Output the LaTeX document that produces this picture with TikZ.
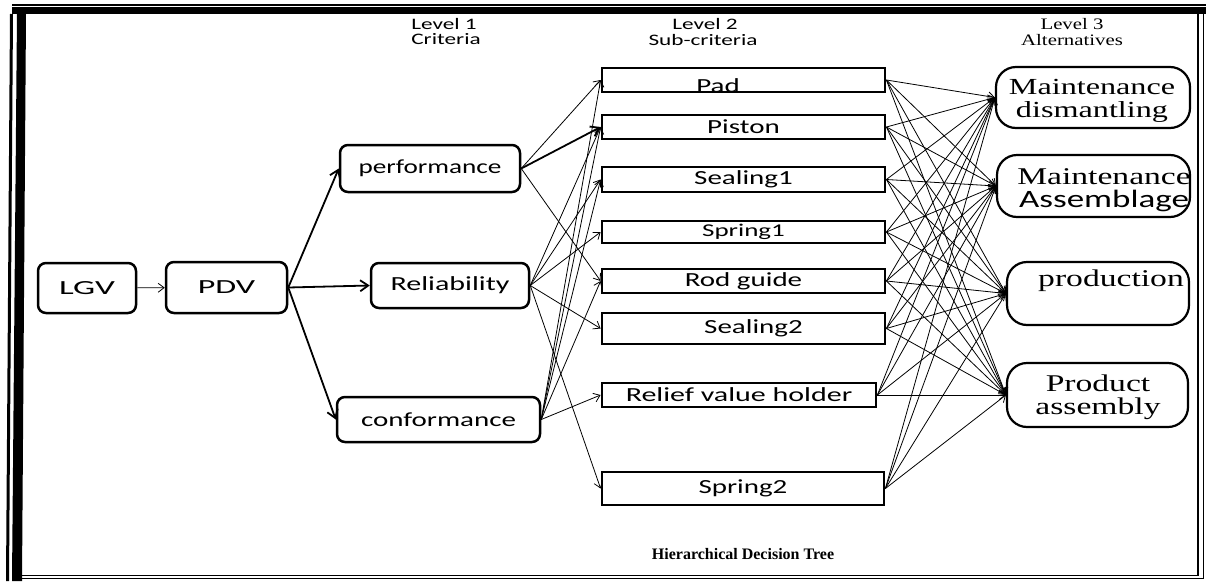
\documentclass[tikz,border=0pt]{standalone}
\usepackage{fontspec}
\setmainfont{Liberation Serif}
\newfontfamily\carl{Carlito}
\usetikzlibrary{arrows.meta}
\newcommand\X[2][1.45]{\scalebox{#1}[1]{#2}}
\begin{document}
\begin{tikzpicture}[x=1pt,y=-1pt,
  crit/.style={draw,line width=2.5pt,rounded corners=8pt,inner sep=0pt,font=\carl\fontsize{20}{24}\selectfont},
  subbox/.style={draw,line width=2.8pt,inner sep=0pt,font=\carl\fontsize{20}{24}\selectfont},
  subtxt/.style={inner sep=0pt,font=\carl\fontsize{20}{24}\selectfont},
  altbox/.style={draw,line width=2.2pt,rounded corners=20pt,inner sep=0pt},
  alttxt/.style={inner sep=0pt,align=center,font=\fontsize{24}{23}\selectfont},
  lvl/.style={inner sep=0pt,anchor=base,font=\carl\fontsize{16}{16}\selectfont},
  lvlt/.style={inner sep=0pt,anchor=base,font=\fontsize{16}{16}\selectfont},
  conn/.style={line width=0.8pt,-{Straight Barb[length=6pt,width=9pt]}},
  bold conn/.style={line width=1.8pt,-{Straight Barb[length=8pt,width=11pt]}}
]
\useasboundingbox (0,0) rectangle (1206,581);
% frame
\draw[line width=1.5pt] (12,5) -- (1206,5);
\fill (12,7) rectangle (1206,14);
\draw[line width=3pt] (11.5,14) -- (7.5,581);
\fill (17,14) -- (26,14) -- (22,581) -- (12,581) -- cycle;
\draw[line width=1.2pt] (21,575.5) -- (1198,575.5);
\draw[line width=1.2pt] (21,578.6) -- (1204,578.6);
\draw[line width=2.5pt] (1198,14) -- (1198,576);
\draw[line width=1.2pt] (1203.4,14) -- (1203.4,579);

% level labels
\node[lvl] (l1) at (444,29) {\X{Level 1}};
\node[lvl] (c1) at (446,44) {\X{Criteria}};
\node[lvl] (l2) at (705,29) {\X{Level 2}};
\node[lvl] (c2) at (703,45) {\X{Sub-criteria}};
\node[lvlt] (l3) at (1072,29) {\X[1.3]{Level 3}};
\node[lvlt] (c3) at (1072,45) {\X[1.3]{Alternatives}};

% main nodes
\node[crit,minimum width=98pt,minimum height=50pt] (lgv) at (87,288) {\X[1.75]{LGV}};
\node[crit,minimum width=121pt,minimum height=51pt] (pdv) at (226.5,287.5) {\X[1.7]{PDV}};
\node[crit,minimum width=180pt,minimum height=47pt] (perf) at (430,168.5) {\X[1.36]{performance}};
\node[crit,minimum width=158pt,minimum height=45pt] (rel) at (450,285.5) {\X[1.5]{Reliability}};
\node[crit,minimum width=203pt,minimum height=45pt] (conf) at (438.5,419.5) {\X[1.45]{conformance}};

% sub-criteria
\node[subbox,minimum width=283pt,minimum height=24pt] (pad) at (743.5,80) {};
\node[subtxt,anchor=base] (padt) at (718,92) {\X{Pad}};
\node[subbox,minimum width=283pt,minimum height=24pt] (piston) at (743.5,127) {\X{Piston}};
\node[subbox,minimum width=283pt,minimum height=25pt] (seal1) at (743.5,179.5) {\X{Sealing1}};
\node[subbox,minimum width=283pt,minimum height=22pt,font=\carl\fontsize{18}{20}\selectfont] (spring1) at (743.5,232) {\X[1.5]{Spring1}};
\node[subbox,minimum width=283pt,minimum height=24pt] (rod) at (743.5,281) {\X{Rod guide}};
\node[subbox,minimum width=283pt,minimum height=31pt] (seal2) at (743.5,328.5) {\hspace*{20pt}\X{Sealing2}};
\node[subbox,minimum width=274pt,minimum height=24pt] (relief) at (739,395) {\X[1.5]{Relief value holder}};
\node[subbox,minimum width=282pt,minimum height=33pt] (spring2) at (743,488.5) {\X{Spring2}};

% alternatives
\node[altbox,minimum width=194pt,minimum height=61pt] (md) at (1093,97.5) {};
\node[alttxt] (mdt) at (1092,101) {\fontsize{23}{23}\selectfont\X[1.4]{Maintenance}\\\fontsize{23}{23}\selectfont\X[1.4]{dismantling}};
\node[altbox,minimum width=193pt,minimum height=62pt] (ma) at (1093.5,186) {};
\node[alttxt] (mat) at (1104,190) {\X[1.4]{Maintenance}\\\carl\fontsize{25}{23}\selectfont\X[1.4]{Assemblage}};
\node[altbox,minimum width=182pt,minimum height=63pt] (prod) at (1098,293.5) {};
\node[alttxt,anchor=base] (prodt) at (1111,286) {\X[1.4]{production}};
\node[altbox,minimum width=181pt,minimum height=64pt] (pa) at (1097.5,395) {};
\node[alttxt] (pat) at (1098,397) {\X[1.4]{Product}\\\X[1.4]{assembly}};

% level 0 -> 1
\draw[conn] (lgv) -- (pdv);
\draw[bold conn] (pdv.east) -- (perf.west);
\draw[bold conn] (pdv.east) -- (rel.west);
\draw[bold conn] (pdv.east) -- (conf.west);

% level 1 -> 2
\draw[conn] (perf.east) -- (pad.west);
\draw[bold conn] (perf.east) -- (piston.west);
\draw[conn] (perf.east) -- (rod.west);
\foreach \s in {piston,seal1,spring1,seal2,spring2}
  \draw[conn] (rel.east) -- (\s.west);
\foreach \s in {pad,piston,seal1,rod,relief}
  \draw[conn] (conf.east) -- (\s.west);

% level 2 -> 3
\foreach \s in {pad,piston,seal1,spring1,rod,seal2,relief,spring2}
  \foreach \a in {md,ma,prod,pa}
    \draw[conn] (\s.east) -- (\a.west);

% caption
\node[inner sep=0pt,anchor=base,font=\bfseries\fontsize{16}{16}\selectfont] (cap) at (743,559) {Hierarchical Decision Tree};
\end{tikzpicture}
\end{document}
